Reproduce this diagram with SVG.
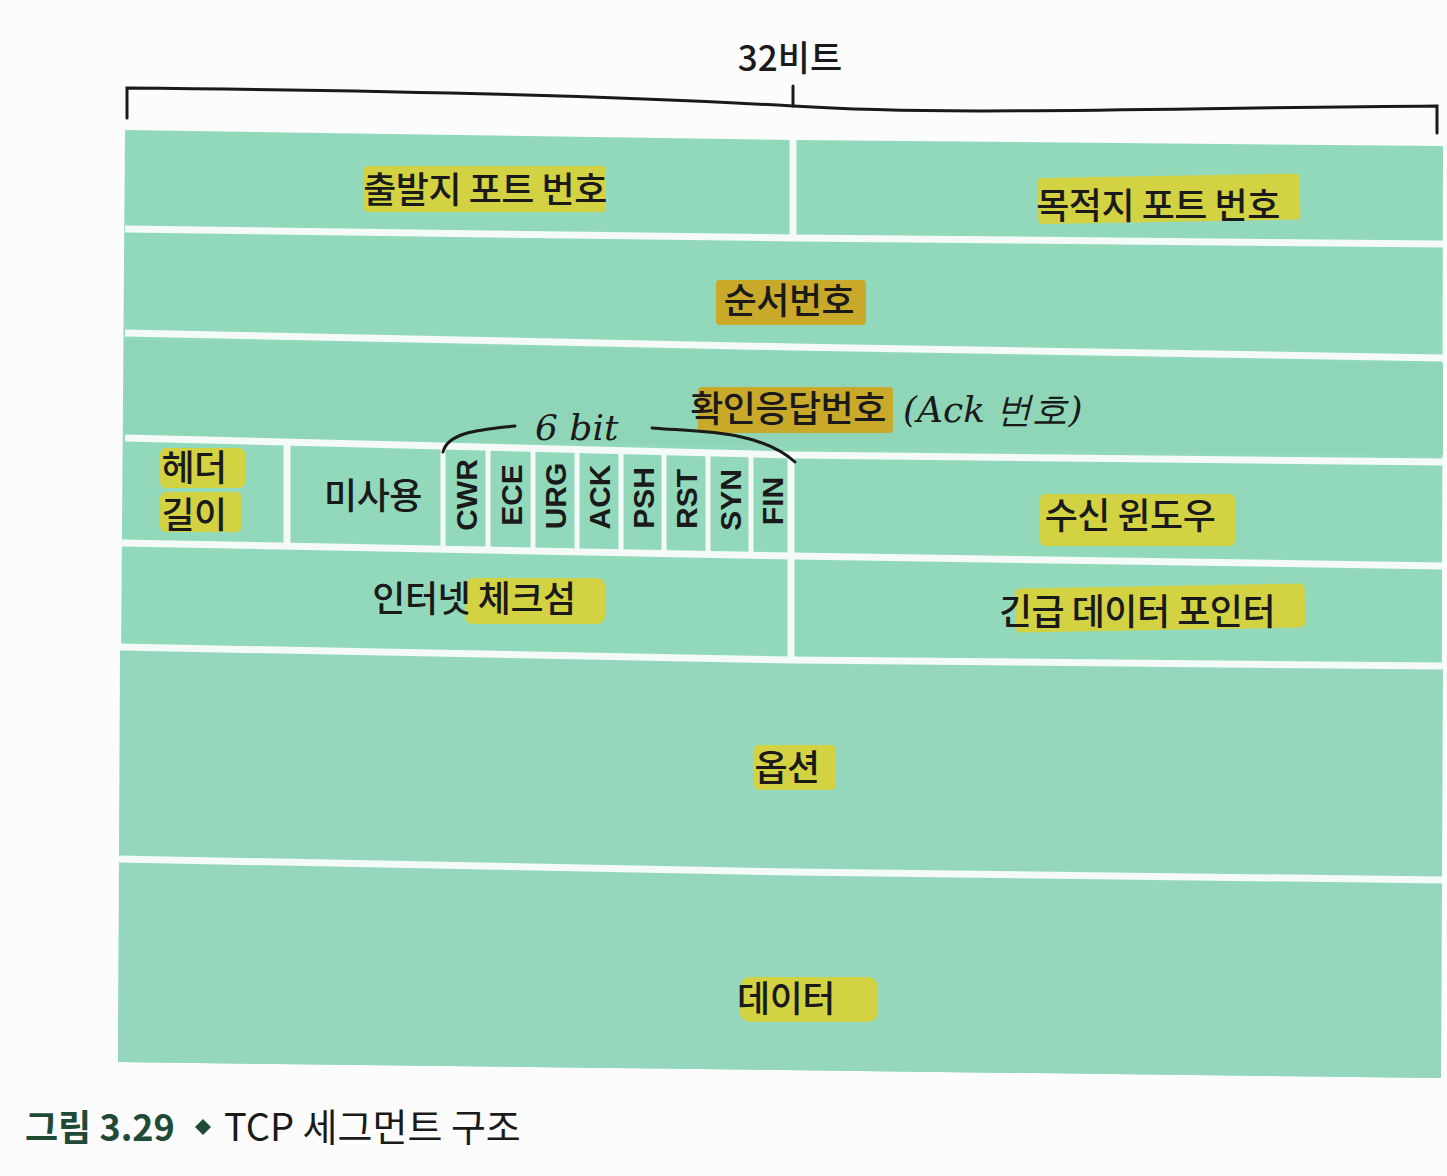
<svg xmlns="http://www.w3.org/2000/svg" width="1447" height="1176" viewBox="0 0 1447 1176">
<style>
.lbl{font-family:"Noto Sans CJK KR","Noto Sans",sans-serif;font-size:36px;font-weight:500;fill:#1a1a1a;letter-spacing:-0.5px;}
.flag{font-family:"Liberation Sans","DejaVu Sans",sans-serif;font-size:30px;font-weight:bold;fill:#1a1a1a;}
.hl{fill:#d6d23c;opacity:0.95;}
.hl2{fill:#c9a92a;}
.sep{stroke:#f3faf7;stroke-width:7;fill:none;stroke-linecap:butt;}
.thin{stroke:#f3faf7;stroke-width:5;fill:none;}
.ink{stroke:#1a1a1a;stroke-width:3;fill:none;stroke-linecap:round;}
.hand{font-family:"DejaVu Serif","Liberation Serif",serif;font-style:italic;font-size:36px;fill:#1a1a1a;}
</style>
<rect width="1447" height="1176" fill="#fbfcfb"/>
<g id="bracket">
<path class="ink" d="M127,118 L127,88 C350,90 600,95 793,106 C950,116 1150,108 1437,106 L1437,133" stroke-width="2.5"/>
<path class="ink" d="M793,86 L793,106" stroke-width="2"/>
<text x="790" y="71" text-anchor="middle" style="font-family:'Noto Sans CJK KR',sans-serif;font-size:35px;font-weight:500;fill:#1a1a1a">32비트</text>
</g>
<path d="M125,130 L793,140 L1443,146 L1441,1078 L118,1062 Z" fill="#92d8bb"/>
<path d="M125,340 L1443,364 L1443,455 L125,437 Z" fill="#8fd6b8"/>
<path d="M120,650 L1443,668 L1441,1078 L118,1062 Z" fill="#95d7bd"/>
<g id="connectors">
<path class="sep" d="M125,229 L793,238 L1443,244"/>
<path class="sep" d="M125,333 L793,347 L1443,358"/>
<path class="sep" d="M125,438 L793,455 L1443,462"/>
<path class="sep" d="M122,543 L793,556 L1443,566"/>
<path class="sep" d="M120,647 L793,660 L1443,666"/>
<path class="sep" d="M118,859 L793,872 L1443,880"/>
<path class="sep" d="M793,140 L793,238"/>
<path class="sep" d="M791,458 L791,660"/>
<path class="sep" d="M287,440 L287,545"/>
<path class="thin" d="M443,445 L443,548"/>
<path class="thin" d="M488,446 L488,549"/>
<path class="thin" d="M533,447 L533,550"/>
<path class="thin" d="M577,448 L577,551"/>
<path class="thin" d="M621,449 L621,552"/>
<path class="thin" d="M664,450 L664,553"/>
<path class="thin" d="M708,451 L708,554"/>
<path class="thin" d="M751,452 L751,555"/>
</g>
<g id="n-srcport">
<rect class="hl" x="364" y="166" width="242" height="46" rx="4"/>
<text class="lbl" x="485" y="203" text-anchor="middle">출발지 포트 번호</text>
</g>
<g id="n-dstport">
<rect class="hl" x="1038" y="176" width="262" height="46" rx="4" transform="rotate(-1 1160 200)"/>
<text class="lbl" x="1158" y="219" text-anchor="middle">목적지 포트 번호</text>
</g>
<g id="n-seq">
<rect class="hl2" x="716" y="280" width="150" height="45" rx="4"/>
<text class="lbl" x="789" y="314" text-anchor="middle">순서번호</text>
</g>
<g id="n-ack">
<rect class="hl2" x="698" y="387" width="195" height="46" rx="4"/>
<text class="lbl" x="788" y="422" text-anchor="middle">확인응답번호</text>
<text class="hand" x="903" y="422">(Ack 번호)</text>
</g>
<g id="n-hlen">
<rect class="hl" x="160" y="448" width="85" height="40" rx="6"/>
<rect class="hl" x="160" y="492" width="82" height="40" rx="6"/>
<text class="lbl" x="194" y="481" text-anchor="middle" font-size="32">헤더</text>
<text class="lbl" x="194" y="528" text-anchor="middle" font-size="32">길이</text>
</g>
<g id="n-unused">
<text class="lbl" x="373" y="509" text-anchor="middle">미사용</text>
</g>
<g id="n-flags">
<path class="ink" d="M443,452 C448,432 480,430 515,426"/>
<path class="ink" d="M652,428 C700,432 760,430 795,462"/>
<text class="hand" x="535" y="440" font-size="34">6 bit</text>
<text class="flag" transform="translate(477,495) rotate(-90)" text-anchor="middle">CWR</text>
<text class="flag" transform="translate(522,495) rotate(-90)" text-anchor="middle">ECE</text>
<text class="flag" transform="translate(566,496) rotate(-90)" text-anchor="middle">URG</text>
<text class="flag" transform="translate(610,497) rotate(-90)" text-anchor="middle">ACK</text>
<text class="flag" transform="translate(654,498) rotate(-90)" text-anchor="middle">PSH</text>
<text class="flag" transform="translate(697,499) rotate(-90)" text-anchor="middle">RST</text>
<text class="flag" transform="translate(741,500) rotate(-90)" text-anchor="middle">SYN</text>
<text class="flag" transform="translate(783,501) rotate(-90)" text-anchor="middle">FIN</text>
</g>
<g id="n-window">
<rect class="hl" x="1040" y="494" width="195" height="52" rx="5"/>
<text class="lbl" x="1130" y="529" text-anchor="middle">수신 윈도우</text>
</g>
<g id="n-checksum">
<rect class="hl" x="465" y="578" width="140" height="46" rx="8"/>
<text class="lbl" x="474" y="612" text-anchor="middle">인터넷 체크섬</text>
</g>
<g id="n-urgent">
<rect class="hl" x="1015" y="586" width="290" height="44" rx="5" transform="rotate(-1 1160 608)"/>
<text class="lbl" x="1137" y="625" text-anchor="middle">긴급 데이터 포인터</text>
</g>
<g id="n-options">
<rect class="hl" x="754" y="745" width="82" height="45" rx="5"/>
<text class="lbl" x="787" y="781" text-anchor="middle">옵션</text>
</g>
<g id="n-data">
<rect class="hl" x="740" y="977" width="138" height="45" rx="10"/>
<text class="lbl" x="786" y="1012" text-anchor="middle">데이터</text>
</g>
<g id="caption">
<text x="25" y="1141" style="font-family:'Noto Sans CJK KR',sans-serif;font-size:36px;font-weight:bold;fill:#1e4a36">그림 3.29</text>
<path d="M203,1119 L211,1127 L203,1135 L195,1127 Z" fill="#1e4a36"/>
<text x="224" y="1141" style="font-family:'Noto Sans CJK KR',sans-serif;font-size:38px;font-weight:400;fill:#1a1a1a">TCP 세그먼트 구조</text>
</g>
</svg>
